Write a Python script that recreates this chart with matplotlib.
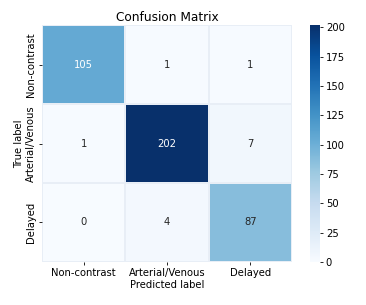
import numpy as np
import matplotlib
matplotlib.use("Agg")
import matplotlib.pyplot as plt
import seaborn as sns

classes = ["Non-contrast", "Arterial/Venous", "Delayed"]
counts = np.array([[105, 1, 1],
                   [1, 202, 7],
                   [0, 4, 87]])

plt.rcParams['font.family'] = ['DejaVu Sans']
plt.rcParams['font.size'] = 7.2

fig = plt.figure(figsize=(3.66, 3.05), dpi=100)
ax = fig.add_axes([0.115, 0.141, 0.683, 0.777])
cax = fig.add_axes([0.846, 0.141, 0.029, 0.777])

sns.heatmap(counts, annot=True, fmt="d", cmap="Blues", ax=ax, cbar_ax=cax,
            xticklabels=classes, yticklabels=classes,
            linewidths=0.1, linecolor="#e8eef6", annot_kws={"size": 7.2})

ax.set_title("Confusion Matrix", fontsize=8.7, pad=3)
ax.set_xlabel("Predicted label", labelpad=1)
ax.set_ylabel("True label", labelpad=1)
ax.tick_params(axis="both", length=2.5, width=0.6, pad=2)
cax.tick_params(length=2.5, width=0.6, pad=1.5)
for s in cax.spines.values():
    s.set_visible(False)

fig.savefig("out.png", dpi=100)
